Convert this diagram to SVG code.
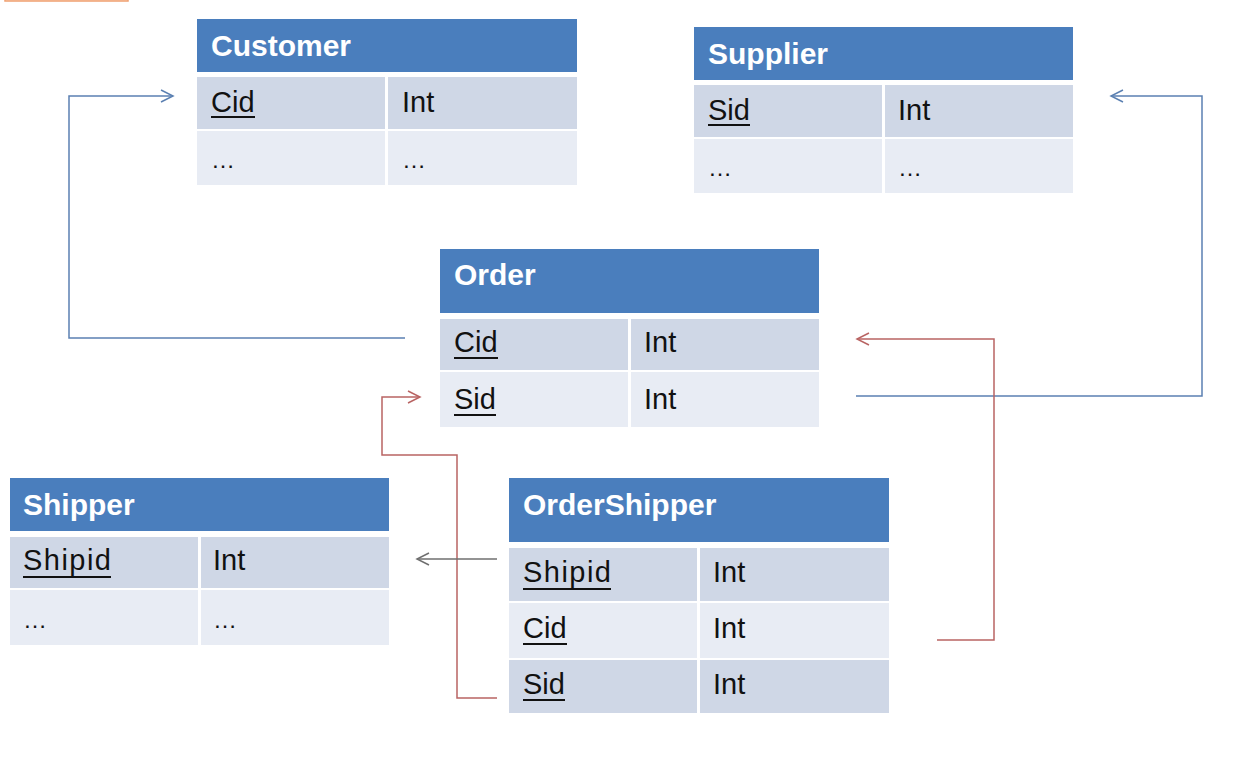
<svg xmlns="http://www.w3.org/2000/svg" width="1252" height="778" viewBox="0 0 1252 778">
<style>
.hdr{fill:#4a7ebd}
.rd{fill:#cfd7e6}
.rl{fill:#e8ecf4}
.ht{font-family:"Liberation Sans",Arial,sans-serif;font-weight:bold;font-size:30px;fill:#ffffff}
.t{font-family:"Liberation Sans",Arial,sans-serif;font-size:29px;fill:#111111}
.d{font-family:"Liberation Sans",Arial,sans-serif;font-size:24px;fill:#111111}
.u{stroke:#111111;stroke-width:2.2}
.blue{fill:none;stroke:#5b80b2;stroke-width:1.5}
.red{fill:none;stroke:#b96463;stroke-width:1.5}
.gray{fill:none;stroke:#6f6f6f;stroke-width:1.5}
</style>
<defs>
<marker id="ab" markerUnits="userSpaceOnUse" markerWidth="16" markerHeight="16" refX="13" refY="8" orient="auto"><path d="M1,2 L13,8 L1,14" fill="none" stroke="#5b80b2" stroke-width="1.5"/></marker>
<marker id="ar" markerUnits="userSpaceOnUse" markerWidth="16" markerHeight="16" refX="13" refY="8" orient="auto"><path d="M1,2 L13,8 L1,14" fill="none" stroke="#b96463" stroke-width="1.5"/></marker>
<marker id="ag" markerUnits="userSpaceOnUse" markerWidth="16" markerHeight="16" refX="13" refY="8" orient="auto"><path d="M1,2 L13,8 L1,14" fill="none" stroke="#6f6f6f" stroke-width="1.5"/></marker>
</defs>
<rect width="1252" height="778" fill="#ffffff"/>
<rect x="5" y="-20" width="123" height="21" fill="#fbe3d3" stroke="#f0a070" stroke-width="1.5"/>

<g id="connectors">
<path class="blue" d="M405,338 H69 V96 H173" marker-end="url(#ab)"/>
<path class="blue" d="M856,396 H1202 V96 H1111" marker-end="url(#ab)"/>
<path class="red" d="M937,640 H994 V339 H857" marker-end="url(#ar)"/>
<path class="red" d="M497,698 H457 V455 H382 V397 H420" marker-end="url(#ar)"/>
<path class="gray" d="M497,559 H417" marker-end="url(#ag)"/>
</g>

<g id="customer">
<rect class="hdr" x="197" y="19" width="380" height="53"/>
<text class="ht" x="211" y="56">Customer</text>
<rect class="rd" x="197" y="77" width="188" height="52"/>
<rect class="rd" x="388" y="77" width="189" height="52"/>
<rect class="rl" x="197" y="131" width="188" height="54"/>
<rect class="rl" x="388" y="131" width="189" height="54"/>
<text class="t" x="211" y="112">Cid</text>
<line class="u" x1="211" y1="117" x2="255" y2="117"/>
<text class="t" x="402" y="112">Int</text>
<text class="d" x="211" y="168">…</text>
<text class="d" x="402" y="168">…</text>
</g>

<g id="supplier">
<rect class="hdr" x="694" y="27" width="379" height="53"/>
<text class="ht" x="708" y="64">Supplier</text>
<rect class="rd" x="694" y="85" width="188" height="52"/>
<rect class="rd" x="885" y="85" width="188" height="52"/>
<rect class="rl" x="694" y="139" width="188" height="54"/>
<rect class="rl" x="885" y="139" width="188" height="54"/>
<text class="t" x="708" y="120">Sid</text>
<line class="u" x1="708" y1="125" x2="750" y2="125"/>
<text class="t" x="898" y="120">Int</text>
<text class="d" x="708" y="176">…</text>
<text class="d" x="898" y="176">…</text>
</g>

<g id="order">
<rect class="hdr" x="440" y="249" width="379" height="64"/>
<text class="ht" x="454" y="285">Order</text>
<rect class="rd" x="440" y="319" width="188" height="51"/>
<rect class="rd" x="631" y="319" width="188" height="51"/>
<rect class="rl" x="440" y="372" width="188" height="55"/>
<rect class="rl" x="631" y="372" width="188" height="55"/>
<text class="t" x="454" y="352">Cid</text>
<line class="u" x1="454" y1="358" x2="498" y2="358"/>
<text class="t" x="644" y="352">Int</text>
<text class="t" x="454" y="409">Sid</text>
<line class="u" x1="454" y1="415" x2="496" y2="415"/>
<text class="t" x="644" y="409">Int</text>
</g>

<g id="shipper">
<rect class="hdr" x="10" y="478" width="379" height="53"/>
<text class="ht" x="23" y="515">Shipper</text>
<rect class="rd" x="10" y="537" width="188" height="51"/>
<rect class="rd" x="201" y="537" width="188" height="51"/>
<rect class="rl" x="10" y="590" width="188" height="55"/>
<rect class="rl" x="201" y="590" width="188" height="55"/>
<text class="t" x="23" y="570" textLength="88" lengthAdjust="spacing">Shipid</text>
<line class="u" x1="23" y1="577" x2="111" y2="577"/>
<text class="t" x="213" y="570">Int</text>
<text class="d" x="23" y="628">…</text>
<text class="d" x="213" y="628">…</text>
</g>

<g id="ordershipper">
<rect class="hdr" x="509" y="478" width="380" height="64"/>
<text class="ht" x="523" y="515">OrderShipper</text>
<rect class="rd" x="509" y="548" width="188" height="53"/>
<rect class="rd" x="700" y="548" width="189" height="53"/>
<rect class="rl" x="509" y="603" width="188" height="55"/>
<rect class="rl" x="700" y="603" width="189" height="55"/>
<rect class="rd" x="509" y="660" width="188" height="53"/>
<rect class="rd" x="700" y="660" width="189" height="53"/>
<text class="t" x="523" y="582" textLength="88" lengthAdjust="spacing">Shipid</text>
<line class="u" x1="523" y1="589" x2="611" y2="589"/>
<text class="t" x="713" y="582">Int</text>
<text class="t" x="523" y="638">Cid</text>
<line class="u" x1="523" y1="644" x2="567" y2="644"/>
<text class="t" x="713" y="638">Int</text>
<text class="t" x="523" y="694">Sid</text>
<line class="u" x1="523" y1="700" x2="565" y2="700"/>
<text class="t" x="713" y="694">Int</text>
</g>
</svg>
